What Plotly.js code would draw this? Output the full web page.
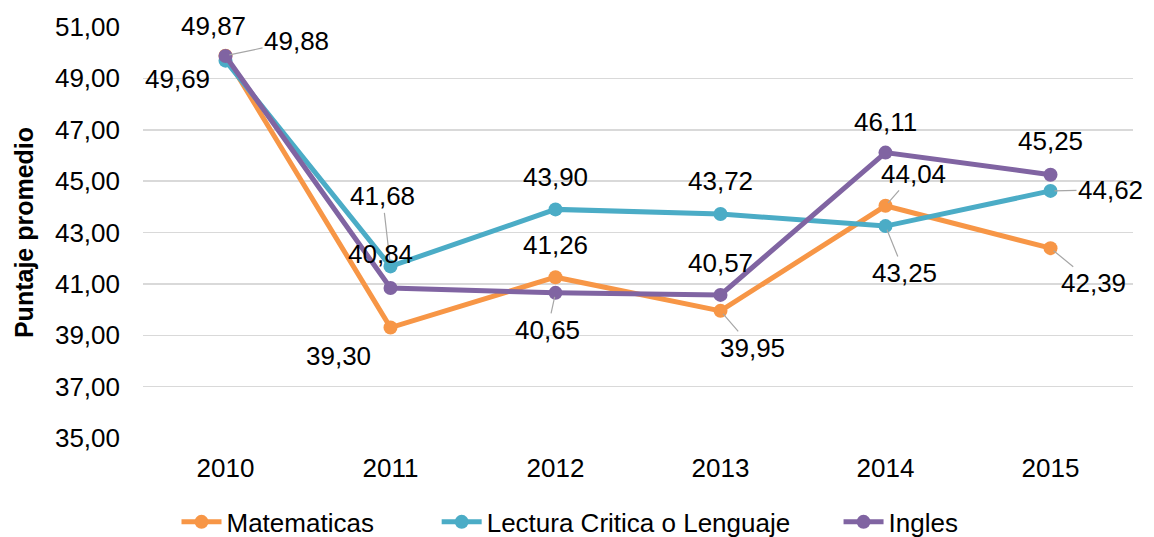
<!DOCTYPE html>
<html>
<head>
<meta charset="utf-8">
<script src="https://cdn.plot.ly/plotly-3.0.1.min.js"></script>
<style>html,body{margin:0;padding:0;background:#fff;}#chart{width:1154px;height:537px;}</style>
</head>
<body>
<div id="chart"></div>
<script>
// ---- data ----
const years = ['2010', '2011', '2012', '2013', '2014', '2015'];
const matematicas = [49.88, 39.30, 41.26, 39.95, 44.04, 42.39];
const lectura = [49.69, 41.68, 43.90, 43.72, 43.25, 44.62];
const ingles = [49.87, 40.84, 40.65, 40.57, 46.11, 45.25];
const seriesNames = ['Matematicas', 'Lectura Critica o Lenguaje', 'Ingles'];
const yTickVals = [35, 37, 39, 41, 43, 45, 47, 49, 51];

// ---- styles / label placement (pixel offsets, leader line flag) ----
const colors = ['#F79646', '#4BACC6', '#8064A2'];
const labelPos = [
  [[71,-15,1],[-52,28,0],[0,-32,0],[32,37,1],[28,-32,1],[43,35,1]],
  [[-48,18,0],[-8,-70,1],[0,-32,0],[0,-33,0],[19,47,1],[60,-1,1]],
  [[-12,-30,0],[-10,-34,0],[-8,37,1],[0,-32,0],[0,-31,0],[0,-34,0]]
];
const legendPad = [8, 6, 2];
const FONT = 'Liberation Sans, Arial, sans-serif';
const FS = 26;
const allSeries = [matematicas, lectura, ingles];
const xIdx = years.map((y, i) => i);

const traces = allSeries.map((vals, i) => ({
  type: 'scatter', mode: 'lines+markers',
  x: xIdx, y: vals, name: seriesNames[i] + '\u00A0'.repeat(legendPad[i]),
  line: {color: colors[i], width: 5},
  marker: {color: colors[i], size: 14},
  hoverinfo: 'y'
}));

const annotations = [];
allSeries.forEach((vals, i) => {
  vals.forEach((v, j) => {
    const p = labelPos[i][j];
    annotations.push({
      x: xIdx[j], y: v, xref: 'x', yref: 'y',
      text: v.toFixed(2).replace('.', ','),
      showarrow: true, arrowhead: 0, arrowwidth: 1.2,
      arrowcolor: p[2] ? '#a6a6a6' : 'rgba(0,0,0,0)',
      standoff: 4, ax: p[0], ay: p[1],
      font: {family: FONT, size: FS, color: '#000'}
    });
  });
});

const layout = {
  width: 1154, height: 537,
  margin: {l: 143, r: 21, t: 27, b: 99},
  paper_bgcolor: '#fff', plot_bgcolor: '#fff',
  separators: ',.',
  font: {family: FONT, size: FS, color: '#000'},
  showlegend: true,
  legend: {
    orientation: 'h', xref: 'container', yref: 'container',
    x: 0.5, xanchor: 'center', y: 0.028, yanchor: 'middle',
    font: {family: FONT, size: FS, color: '#000'},
    itemwidth: 40, tracegroupgap: 0
  },
  xaxis: {
    type: 'linear', range: [-0.5, years.length - 0.5],
    tickvals: xIdx, ticktext: years,
    showgrid: false, zeroline: false, showline: false,
    ticks: '', tickfont: {family: FONT, size: FS, color: '#000'},
    ticklabelstandoff: 12
  },
  yaxis: {
    range: [35, 51], tickvals: yTickVals, tickformat: '.2f',
    showgrid: true, gridcolor: '#d9d9d9', gridwidth: 1.5,
    zeroline: false, showline: false, ticks: '',
    tickfont: {family: FONT, size: FS, color: '#000'},
    ticklabelstandoff: 22,
    title: {text: 'Puntaje promedio', font: {family: FONT, size: 25, color: '#000', weight: 'bold'}, standoff: 14}
  },
  annotations: annotations
};

Plotly.newPlot('chart', traces, layout, {displayModeBar: false, staticPlot: true});
</script>
</body>
</html>
